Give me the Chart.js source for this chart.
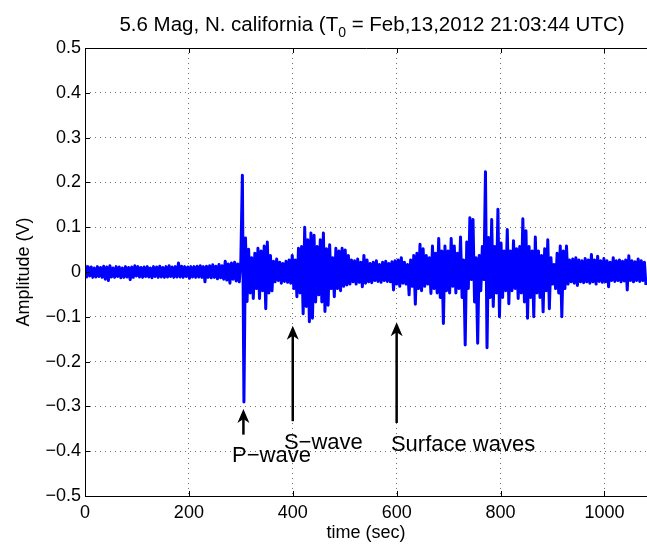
<!DOCTYPE html>
<html>
<head>
<meta charset="utf-8">
<script src="https://cdn.jsdelivr.net/npm/chart.js@4.4.0/dist/chart.umd.min.js"></script>
<style>
html,body{margin:0;padding:0;background:#fff;}
#wrap{width:647px;height:546px;position:relative;}
</style>
</head>
<body>
<div id="wrap"><canvas id="quake"></canvas></div>
<script>
// seismogram, one sample every 3 s (alternating peaks)
const sampleStep = 3;

const preEvent = [ // 0 - 297 s
  0.016,-0.011,0.012,-0.009,0.011,-0.012,0.009,-0.011,0.012,-0.010,
  0.010,-0.012,0.013,-0.016,0.011,-0.019,0.014,-0.011,0.009,-0.012,
  0.012,-0.010,0.011,-0.013,0.009,-0.012,0.012,-0.011,0.010,-0.017,
  0.011,-0.012,0.014,-0.009,0.012,-0.011,0.010,-0.012,0.011,-0.010,
  0.012,-0.011,0.009,-0.013,0.012,-0.010,0.011,-0.012,0.013,-0.011,
  0.010,-0.012,0.012,-0.011,0.014,-0.010,0.011,-0.012,0.012,-0.011,
  0.020,-0.011,0.013,-0.012,0.012,-0.010,0.011,-0.014,0.012,-0.011,
  0.012,-0.012,0.013,-0.011,0.014,-0.012,0.012,-0.022,0.013,-0.012,
  0.014,-0.013,0.016,-0.012,0.013,-0.015,0.017,-0.013,0.014,-0.016,
  0.024,-0.018,0.018,-0.025,0.020,-0.016,0.022,-0.020,0.018,-0.022
];
const pPhase = [ // 300 - 417 s
  0.025,0.216,-0.290,0.076,-0.066,0.051,-0.047,0.032,-0.059,0.042,
  -0.037,0.053,-0.059,0.047,-0.042,0.058,-0.082,0.067,-0.047,0.037,
  -0.042,0.024,-0.022,0.029,-0.019,0.022,-0.025,0.019,-0.021,0.024,
  -0.023,0.027,-0.025,0.037,-0.037,0.027,-0.055,0.053,-0.047,0.057
];
const sPhase = [ // 420 - 597 s
  -0.093,0.100,-0.077,0.072,-0.111,0.087,-0.103,0.082,-0.067,0.057,
  -0.051,0.072,-0.067,0.087,-0.088,0.052,-0.074,0.061,-0.037,0.032,
  -0.055,0.053,-0.037,0.047,-0.042,0.053,-0.032,0.049,-0.029,0.037,
  -0.027,0.027,-0.022,0.025,-0.027,0.029,-0.023,0.022,-0.033,0.037,
  -0.025,0.027,-0.022,0.019,-0.024,0.022,-0.019,0.025,-0.021,0.017,
  -0.023,0.022,-0.019,0.024,-0.021,0.019,-0.022,0.023,-0.040,0.025
];
const surfacePhase = [ // 600 - 927 s
  -0.027,0.027,-0.032,0.032,-0.025,0.022,-0.027,0.017,-0.051,0.027,
  -0.032,0.037,-0.072,0.042,-0.037,0.062,-0.042,0.052,-0.032,0.037,
  -0.027,0.032,-0.048,0.058,-0.037,0.042,-0.047,0.075,-0.057,0.047,
  -0.115,0.058,-0.042,0.047,-0.047,0.075,-0.032,0.058,-0.047,0.042,
  -0.037,0.078,-0.057,0.027,-0.163,0.067,-0.037,0.121,-0.017,0.117,
  -0.067,0.032,-0.159,0.037,-0.042,0.057,-0.017,0.224,-0.169,0.077,
  -0.057,0.117,-0.077,0.057,-0.047,0.140,-0.100,0.065,-0.057,0.047,
  -0.042,0.095,-0.071,0.047,-0.042,0.070,-0.037,0.052,-0.059,0.057,
  -0.047,0.119,-0.067,0.092,-0.103,0.057,-0.057,0.047,-0.100,0.078,
  -0.047,0.047,-0.057,0.037,-0.089,0.052,-0.042,0.072,-0.082,0.032,
  -0.027,0.017,-0.037,0.042,-0.047,0.058,-0.100,0.047,-0.037,0.058
];
const coda = [ // 930 - 1080 s
  -0.027,0.027,-0.022,0.029,-0.025,0.032,-0.030,0.027,-0.022,0.025,
  -0.024,0.030,-0.022,0.027,-0.025,0.039,-0.022,0.027,-0.027,0.035,
  -0.021,0.025,-0.023,0.030,-0.022,0.025,-0.033,0.022,-0.019,0.032,
  -0.021,0.025,-0.019,0.027,-0.022,0.024,-0.020,0.027,-0.040,0.036,
  -0.019,0.025,-0.022,0.023,-0.019,0.029,-0.021,0.025,-0.019,0.022,
  -0.029
];
const segmentStarts = [0, 300, 420, 600, 930];
const segments = [preEvent, pPhase, sPhase, surfacePhase, coda];

const xTicks = [0, 200, 400, 600, 800, 1000];
const yTicks = [-0.5, -0.4, -0.3, -0.2, -0.1, 0, 0.1, 0.2, 0.3, 0.4, 0.5];

// arrows (time, tail amplitude, tip amplitude) and their labels
const arrowTime = [305, 400, 600];
const arrowTail = [-0.363, -0.333, -0.337];
const arrowTip = [-0.306, -0.120, -0.112];
const labelText = ['P\u2212wave', 'S\u2212wave', 'Surface waves'];
const labelTime = [283, 383, 589];
const labelAmp = [-0.423, -0.394, -0.400];

const FONT = '"Liberation Sans", Arial, Helvetica, sans-serif';

const points = [];
segments.forEach((vals, s) => {
  vals.forEach((v, i) => points.push({x: segmentStarts[s] + i*sampleStep, y: v}));
});

function fmtTick(v){
  if (Math.abs(v) < 1e-9) return '0';
  const s = Math.abs(v).toFixed(1);
  return v < 0 ? '\u2212' + s : s;
}

const matlabBox = {
  id: 'matlabBox',
  afterDatasetsDraw(chart){
    const {ctx, chartArea: a, scales: {x, y}} = chart;
    ctx.save();
    ctx.strokeStyle = '#000';
    ctx.lineWidth = 1;
    ctx.beginPath();
    ctx.moveTo(a.left + 0.5, a.bottom + 0.5);
    ctx.lineTo(a.left + 0.5, a.top + 0.5);
    ctx.lineTo(a.right, a.top + 0.5);
    ctx.moveTo(a.left, a.bottom + 0.5);
    ctx.lineTo(a.right, a.bottom + 0.5);
    // inward ticks
    xTicks.forEach(t => {
      const px = Math.round(x.getPixelForValue(t)) + 0.5;
      ctx.moveTo(px, a.bottom); ctx.lineTo(px, a.bottom - 5);
      ctx.moveTo(px, a.top); ctx.lineTo(px, a.top + 5);
    });
    yTicks.forEach(t => {
      const py = Math.round(y.getPixelForValue(t)) + 0.5;
      ctx.moveTo(a.left, py); ctx.lineTo(a.left + 5, py);
    });
    ctx.stroke();

    // arrows
    ctx.fillStyle = '#000';
    ctx.lineWidth = 2.5;
    arrowTime.forEach((t, i) => {
      const px = x.getPixelForValue(t);
      const yTail = y.getPixelForValue(arrowTail[i]);
      const yTip = y.getPixelForValue(arrowTip[i]);
      ctx.beginPath();
      ctx.moveTo(px, yTail);
      ctx.lineTo(px, yTip + 8);
      ctx.stroke();
      ctx.beginPath();
      ctx.moveTo(px, yTip);
      ctx.lineTo(px - 6, yTip + 14);
      ctx.lineTo(px, yTip + 10);
      ctx.lineTo(px + 6, yTip + 14);
      ctx.closePath();
      ctx.fill();
    });

    ctx.font = '22px ' + FONT;
    ctx.textAlign = 'left';
    ctx.textBaseline = 'alphabetic';
    labelText.forEach((txt, i) => {
      ctx.fillText(txt, x.getPixelForValue(labelTime[i]), y.getPixelForValue(labelAmp[i]));
    });

    // title with subscript
    const big = '20.5px ' + FONT, small = '14px ' + FONT;
    const p1 = '5.6 Mag, N. california (T', sub = '0', p2 = ' = Feb,13,2012 21:03:44 UTC)';
    ctx.font = big; const w1 = ctx.measureText(p1).width, w3 = ctx.measureText(p2).width;
    ctx.font = small; const w2 = ctx.measureText(sub).width;
    let tx = 372 - (w1 + w2 + w3) / 2;
    const base = 31;
    ctx.font = big; ctx.fillText(p1, tx, base); tx += w1;
    ctx.font = small; ctx.fillText(sub, tx, base + 6); tx += w2;
    ctx.font = big; ctx.fillText(p2, tx, base);
    ctx.restore();
  }
};

new Chart(document.getElementById('quake'), {
  type: 'line',
  data: {
    datasets: [{
      data: points,
      borderColor: '#0000ff',
      borderWidth: 3,
      borderJoinStyle: 'round',
      pointRadius: 0,
      tension: 0,
      fill: false
    }]
  },
  options: {
    responsive: true,
    maintainAspectRatio: false,
    animation: false,
    devicePixelRatio: 1,
    layout: {padding: {top: 48, left: 0, right: 0, bottom: 0}},
    plugins: {legend: {display: false}, tooltip: {enabled: false}},
    scales: {
      x: {
        type: 'linear', min: 0, max: 1082,
        afterBuildTicks: s => { s.ticks = xTicks.map(v => ({value: v})); },
        afterFit: s => { s.height = 50; },
        ticks: {color: '#000', font: {family: FONT, size: 18}, padding: 6, maxRotation: 0, callback: v => String(v)},
        grid: {color: 'rgba(0,0,0,0.55)', drawTicks: false},
        border: {display: false, dash: [1, 4]},
        title: {display: true, text: 'time (sec)', color: '#000', font: {family: FONT, size: 18}, padding: {top: 0, bottom: 2}}
      },
      y: {
        type: 'linear', min: -0.5, max: 0.5,
        afterBuildTicks: s => { s.ticks = yTicks.map(v => ({value: v})); },
        afterFit: s => { s.width = 85; },
        ticks: {color: '#000', font: {family: FONT, size: 18}, padding: 4, callback: v => fmtTick(v)},
        grid: {color: 'rgba(0,0,0,0.55)', drawTicks: false},
        border: {display: false, dash: [1, 4]},
        title: {display: true, text: 'Amplitude (V)', color: '#000', font: {family: FONT, size: 18}, padding: {top: 13, bottom: 0}}
      }
    }
  },
  plugins: [matlabBox]
});
</script>
</body>
</html>
